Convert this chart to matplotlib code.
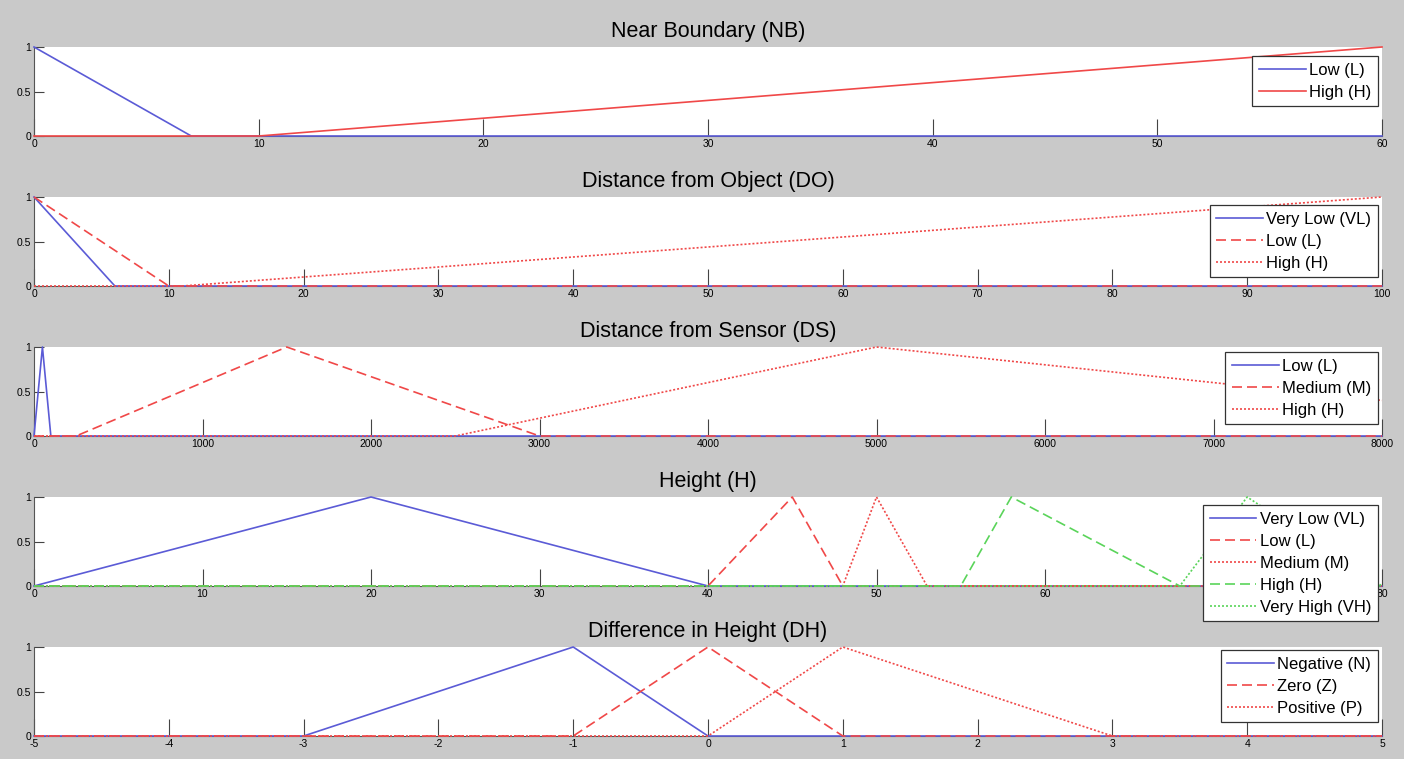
"""Fuzzy membership functions: NB, DO, DS, H, DH -> out.png"""
import matplotlib; matplotlib.use("Agg")
import matplotlib.pyplot as plt

plt.rcParams["font.family"] = ["Liberation Sans", "DejaVu Sans"]
plt.rcParams["axes.unicode_minus"] = False

BLUE, RED, GREEN = "#5b5bd6", "#f04848", "#5ad45a"

NB_low_x, NB_low_y = [0, 7, 60], [1, 0, 0]
NB_high_x, NB_high_y = [0, 10, 60], [0, 0, 1]

DO_vl_x, DO_vl_y = [0, 6, 100], [1, 0, 0]
DO_low_x, DO_low_y = [0, 10, 100], [1, 0, 0]
DO_high_x, DO_high_y = [0, 11, 100], [0, 0, 1]

DS_low_x, DS_low_y = [0, 50, 100, 8000], [0, 1, 0, 0]
DS_med_x, DS_med_y = [0, 250, 1500, 3000, 8000], [0, 0, 1, 0, 0]
DS_high_x, DS_high_y = [0, 2500, 5000, 8000], [0, 0, 1, 0.4]

H_vl_x, H_vl_y = [0, 20, 40, 80], [0, 1, 0, 0]
H_low_x, H_low_y = [0, 40, 45, 48, 80], [0, 0, 1, 0, 0]
H_med_x, H_med_y = [0, 48, 50, 53, 80], [0, 0, 1, 0, 0]
H_high_x, H_high_y = [0, 55, 58, 68, 80], [0, 0, 1, 0, 0]
H_vh_x, H_vh_y = [0, 68, 72, 80], [0, 0, 1, 0]

DH_n_x, DH_n_y = [-5, -3, -1, 0, 5], [0, 0, 1, 0, 0]
DH_z_x, DH_z_y = [-5, -1, 0, 1, 5], [0, 0, 1, 0, 0]
DH_p_x, DH_p_y = [-5, 0, 1, 3, 5], [0, 0, 1, 0, 0]

# (title, xlim, xticks, [(label, xs, ys, color, style)], legend top in axes frac)
PANELS = [
    ("Near Boundary (NB)", (0, 60), range(0, 61, 10),
     [("Low (L)", NB_low_x, NB_low_y, BLUE, "-"),
      ("High (H)", NB_high_x, NB_high_y, RED, "-")], 0.90),
    ("Distance from Object (DO)", (0, 100), range(0, 101, 10),
     [("Very Low (VL)", DO_vl_x, DO_vl_y, BLUE, "-"),
      ("Low (L)", DO_low_x, DO_low_y, RED, "--"),
      ("High (H)", DO_high_x, DO_high_y, RED, ":")], 0.91),
    ("Distance from Sensor (DS)", (0, 8000), range(0, 8001, 1000),
     [("Low (L)", DS_low_x, DS_low_y, BLUE, "-"),
      ("Medium (M)", DS_med_x, DS_med_y, RED, "--"),
      ("High (H)", DS_high_x, DS_high_y, RED, ":")], 0.945),
    ("Height (H)", (0, 80), range(0, 81, 10),
     [("Very Low (VL)", H_vl_x, H_vl_y, BLUE, "-"),
      ("Low (L)", H_low_x, H_low_y, RED, "--"),
      ("Medium (M)", H_med_x, H_med_y, RED, ":"),
      ("High (H)", H_high_x, H_high_y, GREEN, "--"),
      ("Very High (VH)", H_vh_x, H_vh_y, GREEN, ":")], 0.91),
    ("Difference in Height (DH)", (-5, 5), range(-5, 6),
     [("Negative (N)", DH_n_x, DH_n_y, BLUE, "-"),
      ("Zero (Z)", DH_z_x, DH_z_y, RED, "--"),
      ("Positive (P)", DH_p_x, DH_p_y, RED, ":")], 0.965),
]

W, H = 1404, 759
fig = plt.figure(figsize=(W / 100, H / 100), dpi=100, facecolor="#c9c9c9")
tops = [47, 197, 347, 497, 647]
left, right, ah = 34, 1382, 89

for (title, xlim, xt, series, ly), top in zip(PANELS, tops):
    ax = fig.add_axes([left / W, 1 - (top + ah) / H, (right - left) / W, ah / H])
    ax.set_facecolor("white")
    for lab, xs, ys, c, ls in series:
        dash = {"-": "-", "--": (0, (6, 3)), ":": (0, (1.2, 1.2))}[ls]
        ax.plot(xs, ys, color=c, ls=dash, lw=1.2, label=lab, clip_on=False, zorder=3)
    ax.set_xlim(*xlim); ax.set_ylim(0, 1)
    ax.set_xticks(list(xt)); ax.set_yticks([0, 0.5, 1])
    ax.set_yticklabels(["0", "0.5", "1"])
    ax.tick_params(axis="x", direction="in", length=12, width=0.8, labelsize=7.5, pad=2, color="#444444")
    ax.tick_params(axis="y", direction="in", length=7, width=0.8, labelsize=7.5, pad=2, color="#444444")
    for s in ("top", "right"):
        ax.spines[s].set_visible(False)
    for s in ("left", "bottom"):
        ax.spines[s].set_color("#555555"); ax.spines[s].set_linewidth(0.8)
    ax.set_title(title, fontsize=15.5, pad=7)
    leg = ax.legend(loc="upper right", bbox_to_anchor=(0.997, ly), fontsize=12,
                    fancybox=False, framealpha=1, edgecolor="#333333", handlelength=2.8,
                    handletextpad=0.2, labelspacing=0.42, borderpad=0.4, borderaxespad=0)
    leg.get_frame().set_linewidth(0.9)
    leg.set_zorder(5)

fig.savefig("out.png", dpi=100, facecolor=fig.get_facecolor())
